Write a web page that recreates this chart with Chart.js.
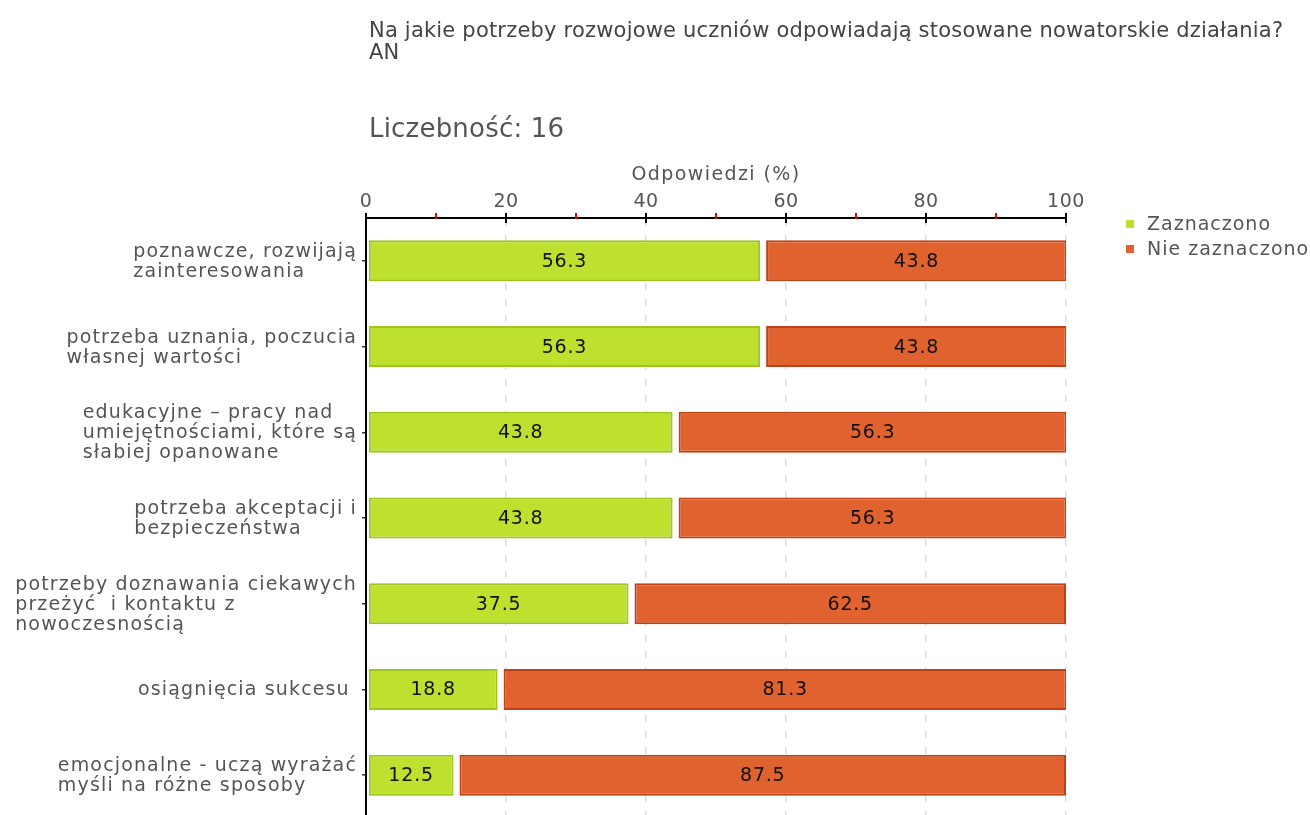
<!DOCTYPE html>
<html>
<head>
<meta charset="utf-8">
<script src="https://cdn.jsdelivr.net/npm/chart.js@4.4.1/dist/chart.umd.min.js"></script>
<style>
  html, body { margin: 0; padding: 0; background: #fff; }
  #wrap { width: 1310px; height: 815px; overflow: hidden; position: relative; }
  canvas { display: block; }
</style>
</head>
<body>
<div id="wrap"><canvas id="chart" width="1310" height="820"></canvas></div>
<script>
// Data
const title = ["Na jakie potrzeby rozwojowe uczniów odpowiadają stosowane nowatorskie działania?", "AN"]
const countLabel = "Liczebność: 16"
const axisTitle = "Odpowiedzi (%)"
const categories = [
  ["poznawcze, rozwijają", "zainteresowania"],
  ["potrzeba uznania, poczucia", "własnej wartości"],
  ["edukacyjne – pracy nad", "umiejętnościami, które są", "słabiej opanowane"],
  ["potrzeba akceptacji i", "bezpieczeństwa"],
  ["potrzeby doznawania ciekawych", "przeżyć  i kontaktu z", "nowoczesnością"],
  ["osiągnięcia sukcesu "],
  ["emocjonalne - uczą wyrażać", "myśli na różne sposoby"],
]
const zaznaczono = [56.3, 56.3, 43.8, 43.8, 37.5, 18.8, 12.5]
const nieZaznaczono = [43.8, 43.8, 56.3, 56.3, 62.5, 81.3, 87.5]
const seriesNames = ["Zaznaczono", "Nie zaznaczono"]
const xTicks = [0, 20, 40, 60, 80, 100]
const xMinorTicks = [10, 30, 50, 70, 90]

const FONT = "'DejaVu Sans', Verdana, sans-serif"
const GREEN = "#bde12e"
const GREEN_BORDER = "#9dc41f"
const ORANGE = "#e0632f"
const ORANGE_BORDER = "#bf4119"

// small gaps between segments, like the original
const gapPlugin = {
  id: "gaps",
  afterDatasetsUpdate(chart) {
    const shifts = [2, 6]
    chart.data.datasets.forEach((ds, i) => {
      chart.getDatasetMeta(i).data.forEach((el) => {
        el.base += shifts[i]
      })
    })
  },
}

const textPlugin = {
  id: "texts",
  afterDraw(chart) {
    const ctx = chart.ctx
    const area = chart.chartArea
    const x = chart.scales.x
    ctx.save()

    // title
    ctx.fillStyle = "#444"
    ctx.textAlign = "left"
    ctx.textBaseline = "alphabetic"
    ctx.font = "21px " + FONT
    ctx.letterSpacing = "0.2px"
    ctx.fillText(title[0], area.left + 3, 37)
    ctx.fillText(title[1], area.left + 3, 59)
    ctx.fillStyle = "#555"
    ctx.font = "26px " + FONT
    ctx.fillText(countLabel, area.left + 3, 137)

    // axis title
    ctx.fillStyle = "#555"
    ctx.font = "19px " + FONT
    ctx.letterSpacing = "1.4px"
    ctx.textAlign = "center"
    ctx.fillText(axisTitle, (area.left + area.right) / 2, 180)

    // x ticks and labels
    ctx.letterSpacing = "0.5px"
    xTicks.forEach((v) => {
      const px = x.getPixelForValue(v)
      ctx.fillStyle = "#555"
      ctx.fillText(String(v), px, 207)
      ctx.strokeStyle = "#000"
      ctx.lineWidth = 2
      ctx.beginPath()
      ctx.moveTo(px, area.top - 5)
      ctx.lineTo(px, area.top + 5)
      ctx.stroke()
    })
    xMinorTicks.forEach((v) => {
      const px = x.getPixelForValue(v)
      ctx.strokeStyle = "#e00000"
      ctx.lineWidth = 2
      ctx.beginPath()
      ctx.moveTo(px, area.top - 5)
      ctx.lineTo(px, area.top + 1)
      ctx.stroke()
    })

    // category labels: block right aligned, lines left aligned
    const y = chart.scales.y
    ctx.font = "19px " + FONT
    ctx.letterSpacing = "1.15px"
    ctx.fillStyle = "#555"
    ctx.textAlign = "left"
    ctx.textBaseline = "middle"
    categories.forEach((lines, i) => {
      const cy = y.getPixelForValue(i) + 1
      const w = Math.max(...lines.map((l) => ctx.measureText(l).width))
      const left = area.left - 9 - w
      lines.forEach((l, j) => {
        ctx.fillText(l, left, cy + (j - (lines.length - 1) / 2) * 20)
      })
    })

    // legend
    const lx = area.right + 60
    const colors = [GREEN, ORANGE]
    ctx.letterSpacing = "1px"
    seriesNames.forEach((name, i) => {
      const ly = 224 + i * 25
      ctx.fillStyle = colors[i]
      ctx.fillRect(lx, ly - 4, 8, 8)
      ctx.fillStyle = "#555"
      ctx.fillText(name, lx + 21, ly + 1)
    })
    ctx.restore()
  },
  afterDatasetsDraw(chart) {
    const ctx = chart.ctx
    ctx.save()
    ctx.font = "19px " + FONT
    ctx.letterSpacing = "0.8px"
    ctx.fillStyle = "#111"
    ctx.textAlign = "center"
    ctx.textBaseline = "middle"
    chart.data.datasets.forEach((ds, i) => {
      chart.getDatasetMeta(i).data.forEach((el, j) => {
        ctx.fillText(ds.data[j].toFixed(1), (el.x + el.base) / 2, el.y + 1)
      })
    })
    ctx.restore()
  },
}

new Chart(document.getElementById("chart"), {
  type: "bar",
  data: {
    labels: categories,
    datasets: [
      {
        label: seriesNames[0],
        data: zaznaczono,
        backgroundColor: GREEN,
        borderColor: GREEN_BORDER,
        borderWidth: 2,
        borderSkipped: false,
      },
      {
        label: seriesNames[1],
        data: nieZaznaczono,
        backgroundColor: ORANGE,
        borderColor: ORANGE_BORDER,
        borderWidth: 2,
        borderSkipped: false,
      },
    ],
  },
  options: {
    indexAxis: "y",
    responsive: false,
    animation: false,
    events: [],
    barPercentage: 0.478,
    categoryPercentage: 1,
    layout: { padding: { top: 218, left: 0, right: 244, bottom: 2 } },
    plugins: { legend: { display: false }, tooltip: { enabled: false } },
    scales: {
      x: {
        position: "top",
        stacked: true,
        min: 0,
        max: 100,
        afterBuildTicks: (s) => {
          s.ticks = xTicks.map((v) => ({ value: v }))
        },
        afterFit: (s) => {
          s.height = 0
        },
        ticks: { display: false },
        grid: {
          drawTicks: false,
          color: (c) => (c.tick && c.tick.value === 0 ? "rgba(0,0,0,0)" : "#dcdcdc"),
          lineWidth: 1.5,
        },
        border: { display: true, color: "#000", width: 2, dash: [7, 9] },
      },
      y: {
        stacked: true,
        afterFit: (s) => {
          s.width = 366
        },
        ticks: { display: false },
        grid: { drawOnChartArea: false, offset: false, tickLength: 4, color: "#333", lineWidth: 1.5 },
        border: { display: true, color: "#000", width: 2 },
      },
    },
  },
  plugins: [gapPlugin, textPlugin],
})
</script>
</body>
</html>
